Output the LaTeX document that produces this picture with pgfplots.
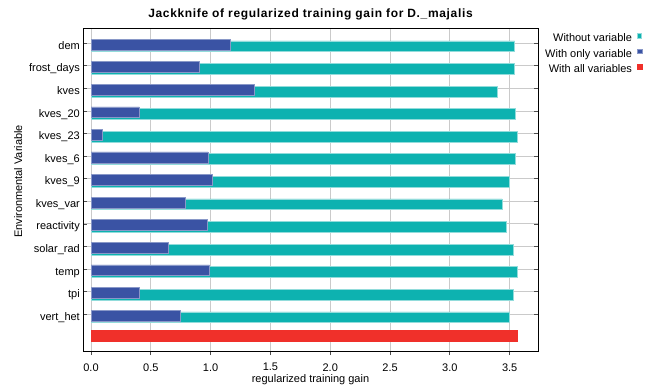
\documentclass[border=0pt]{standalone}
\usepackage{pgfplots}
\pgfplotsset{compat=1.18}
\usepackage{fontspec}
\setmainfont{Liberation Sans}

\definecolor{withoutvar}{HTML}{0DB2B0}
\definecolor{onlyvar}{HTML}{3A53A4}
\definecolor{allvar}{HTML}{F0302A}
\definecolor{gridgray}{HTML}{CACACA}

\begin{document}
\fontsize{11bp}{13bp}\selectfont
\begin{tikzpicture}
\path[use as bounding box] (0,0) rectangle (656bp,385bp);
\begin{axis}[
  at={(83bp,34bp)}, anchor=south west,
  scale only axis, width=455bp, height=323bp,
  xbar, bar width=0.48,
  y dir=reverse,
  xmin=-0.067, xmax=3.737,
  ymin=-0.678, ymax=13.627,
  enlargelimits=false,
  xtick={0,0.5,...,3.5},
  xticklabel style={yshift=-4.5bp, /pgf/number format/.cd, fixed, fixed zerofill, precision=1, assume math mode=true},
  ytick={0,...,12},
  yticklabels={dem,frost\_days,kves,kves\_20,kves\_23,kves\_6,kves\_9,kves\_var,reactivity,solar\_rad,temp,tpi,vert\_het},
  yticklabel style={anchor=base east, inner sep=0pt, xshift=-3bp, yshift=-6bp},
  xtick pos=bottom,
  xtick align=outside,
  ytick align=inside,
  major tick length=4bp,
  tick style={color=black!70, line width=0.8bp},
  grid=major,
  major grid style={color=gridgray, line width=0.9bp},
  axis line style={line width=0.9bp},
  title={\bfseries\fontsize{12bp}{14bp}\selectfont\addfontfeatures{LetterSpace=5.5}Jackknife of regularized training gain for D.\_majalis},
  title style={at={(axis description cs:0.5,1.0155)}, anchor=base, inner sep=0pt},
  xlabel={regularized training gain},
  xlabel style={at={(axis description cs:0.5,-0.096)}, anchor=base, inner sep=0pt},
  ylabel={Environmental Variable},
  ylabel style={at={(axis description cs:-0.134,0.525)}, anchor=base, inner sep=0pt},
  legend plot pos=right,
  legend cell align=right,
  legend style={at={(axis description cs:1.236,0.99)}, anchor=north east,
    draw=none, fill=none, column sep=5bp, row sep=4.5bp,
    nodes={inner sep=0pt, text height=8bp, text depth=2.5bp}},
  legend image code/.code={\fill[#1] (0bp,0.8bp) rectangle (4.5bp,5.3bp);},
]
% training gain without each variable
\addplot[fill=withoutvar, draw=withoutvar!45!white, line width=0.7bp, bar shift=0.133]
  coordinates {
  (3.542,0) (3.537,1) (3.397,2) (3.551,3) (3.562,4) (3.551,5) (3.498,6)
  (3.436,7) (3.476,8) (3.528,9) (3.562,10) (3.528,11) (3.498,12)};
\addlegendentry{Without variable}
% training gain with each variable alone
\addplot[fill=onlyvar, draw=onlyvar!60!white, line width=0.6bp, bar shift=0.053]
  coordinates {
  (1.162,0) (0.906,1) (1.363,2) (0.404,3) (0.098,4) (0.978,5) (1.014,6)
  (0.792,7) (0.970,8) (0.646,9) (0.992,10) (0.407,11) (0.744,12)};
\addlegendentry{With only variable}
% full model
\addplot[fill=allvar, draw=allvar, line width=0.5bp, bar shift=-0.06]
  coordinates {(3.562,13)};
\addlegendentry{With all variables}
\end{axis}
\end{tikzpicture}
\end{document}
